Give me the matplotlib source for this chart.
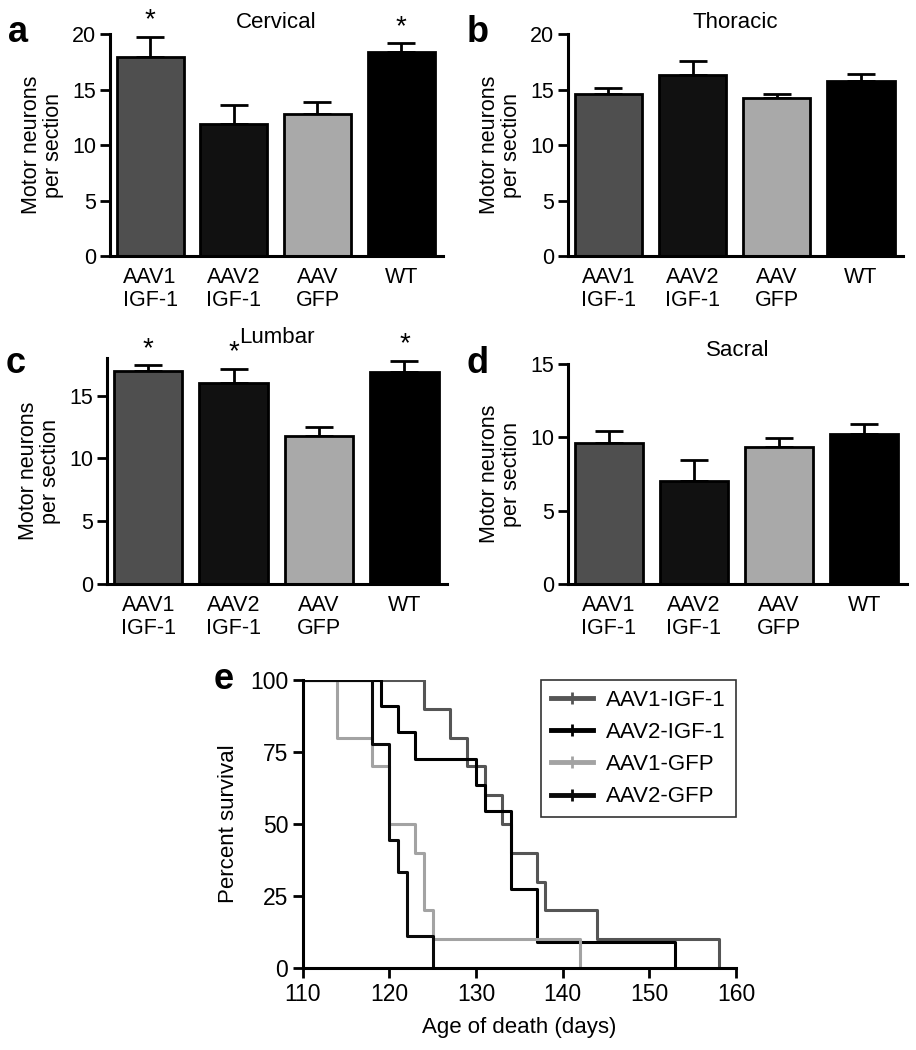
import numpy as np
import matplotlib
matplotlib.use("Agg")
import matplotlib.pyplot as plt

plt.rcParams['font.family'] = ['Liberation Sans', 'DejaVu Sans']
plt.rcParams['font.size'] = 15.5

groups = ["AAV1\nIGF-1", "AAV2\nIGF-1", "AAV\nGFP", "WT"]
bar_colors = ["#4f4f4f", "#111111", "#a9a9a9", "#000000"]

cervical = [17.9, 11.9, 12.8, 18.35]
cervical_err = [1.85, 1.75, 1.05, 0.8]
thoracic = [14.6, 16.3, 14.2, 15.75]
thoracic_err = [0.55, 1.3, 0.4, 0.65]
lumbar = [16.97, 16.0, 11.8, 16.87]
lumbar_err = [0.45, 1.15, 0.7, 0.9]
sacral = [9.6, 7.0, 9.35, 10.2]
sacral_err = [0.8, 1.45, 0.58, 0.7]

# days of death for the survival curves
aav1_igf_days = [124, 127, 129, 131, 133, 134, 137, 138, 144, 158]
aav2_igf_days = [119, 121, 123, 130, 131, 134, 134, 134, 137, 137, 153]
aav1_gfp_days = [114, 114, 118, 120, 120, 123, 124, 124, 125, 142]
aav2_gfp_days = [118, 118, 120, 120, 120, 121, 122, 122, 125]
survival_names = ["AAV1-IGF-1", "AAV2-IGF-1", "AAV1-GFP", "AAV2-GFP"]
survival_colors = ["#555555", "#000000", "#a3a3a3", "#0a0a0a"]

fig = plt.figure(figsize=(9.16, 10.5), dpi=100)


def bar_panel(rect, vals, errs, ymax, yticks, title, letter, stars, title_y, letter_y):
    ax = fig.add_axes(rect)
    x = np.arange(len(vals))
    ax.bar(x, vals, width=0.8, color=bar_colors, edgecolor="black", linewidth=2, zorder=2)
    ax.errorbar(x, vals, yerr=[np.zeros(len(errs)), errs], fmt="none", ecolor="black",
                elinewidth=2, capsize=10, capthick=2, zorder=1)
    for i in stars:
        ax.text(x[i], vals[i] + errs[i] + ymax * 0.015, "*", ha="center", va="bottom", fontsize=20)
    ax.set_xlim(-0.48, 3.5)
    ax.set_ylim(0, ymax)
    ax.set_yticks(yticks)
    ax.set_xticks(x)
    ax.set_xticklabels(groups, linespacing=1.1)
    ax.tick_params(axis="x", length=0, pad=8)
    ax.tick_params(axis="y", length=7, width=2, direction="out", pad=3)
    for s in ["top", "right"]:
        ax.spines[s].set_visible(False)
    for s in ["left", "bottom"]:
        ax.spines[s].set_linewidth(2.2)
    ax.set_ylabel("Motor neurons\nper section", linespacing=1.05, labelpad=6)
    fig.text(rect[0] + rect[2] / 2, title_y, title, ha="center", va="center", fontsize=16)
    fig.text(rect[0] - 0.111, letter_y, letter, ha="left", va="center", fontsize=26, fontweight="bold")
    return ax


bar_panel([0.120, 0.756, 0.3636, 0.2116], cervical, cervical_err, 20, [0, 5, 10, 15, 20],
          "Cervical", "a", [0, 3], 0.979, 0.969)
bar_panel([0.620, 0.756, 0.3658, 0.2116], thoracic, thoracic_err, 20, [0, 5, 10, 15, 20],
          "Thoracic", "b", [], 0.979, 0.969)
bar_panel([0.117, 0.4438, 0.3712, 0.2152], lumbar, lumbar_err, 18, [0, 5, 10, 15],
          "Lumbar", "c", [0, 1, 3], 0.679, 0.654)
bar_panel([0.620, 0.4438, 0.3701, 0.2095], sacral, sacral_err, 15, [0, 5, 10, 15],
          "Sacral", "d", [], 0.666, 0.654)

# survival panel
ax = fig.add_axes([0.3305, 0.0781, 0.473, 0.2743])
for days, name, col in zip([aav1_igf_days, aav2_igf_days, aav1_gfp_days, aav2_gfp_days],
                           survival_names, survival_colors):
    d = np.sort(np.array(days))
    t, counts = np.unique(d, return_counts=True)
    remaining = len(d) - np.cumsum(counts)
    xs = np.concatenate([[110], t])
    ys = np.concatenate([[100], 100.0 * remaining / len(d)])
    ax.step(xs, ys, where="post", color=col, linewidth=2.2, label=name)
ax.set_xlim(110, 160)
ax.set_ylim(0, 100)
ax.set_xticks([110, 120, 130, 140, 150, 160])
ax.set_yticks([0, 25, 50, 75, 100])
ax.tick_params(length=7, width=2, direction="out", labelsize=16.5)
for s in ["top", "right"]:
    ax.spines[s].set_visible(False)
for s in ["left", "bottom"]:
    ax.spines[s].set_linewidth(2.2)
ax.set_ylabel("Percent survival", labelpad=8, fontsize=16)
ax.set_xlabel("Age of death (days)", labelpad=8, fontsize=16)

handles = [plt.Line2D([0], [0], color=c, linewidth=3.5, marker="|", markersize=8,
                      markeredgewidth=2) for c in survival_colors]
leg = ax.legend(handles, survival_names, loc="upper right", bbox_to_anchor=(1.0, 1.0),
                frameon=True, fancybox=False, edgecolor="black", fontsize=16,
                handlelength=1.9, handletextpad=0.6, borderaxespad=0.0, numpoints=1,
                labelspacing=0.5, borderpad=0.45)
leg.get_frame().set_linewidth(1.2)
fig.text(0.233, 0.353, "e", ha="left", va="center", fontsize=26, fontweight="bold")

fig.savefig("out.png", dpi=100)
